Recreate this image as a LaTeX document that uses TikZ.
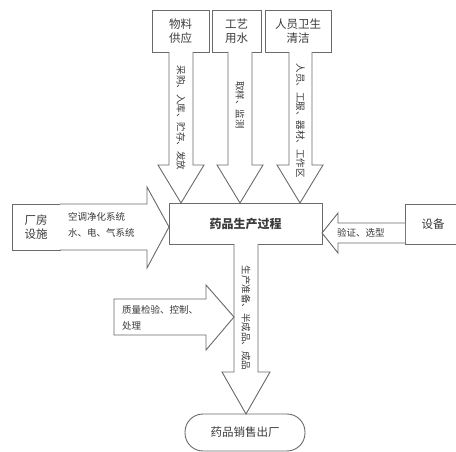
\documentclass[tikz,border=0pt]{standalone}
\usepackage{fontspec}
\setmainfont{Noto Sans CJK SC}
\definecolor{ln}{HTML}{6A6A6A}
\definecolor{tx}{HTML}{3A3A3A}
\begin{document}
\begin{tikzpicture}[x=1pt,y=-1pt,
  boxst/.style={draw=ln, line width=0.9pt, fill=white, inner sep=0pt, align=center, text=tx, font=\fontsize{11.5}{14}\selectfont},
  arr/.style={draw=ln, line width=0.9pt, fill=white, line join=miter},
  vlab/.style={rotate=-90, text=tx, font=\fontsize{9.5}{11}\selectfont, inner sep=0pt},
  hlab/.style={text=tx, font=\fontsize{9.5}{16}\selectfont, inner sep=0pt, align=left}]
\useasboundingbox (0,0) rectangle (456,452);

% top boxes
\node[boxst, minimum width=57pt, minimum height=42pt] (wl) at (180.5,31) {物料\\供应};
\node[boxst, minimum width=49pt, minimum height=42pt] (gy) at (236.5,31) {工艺\\用水};
\node[boxst, minimum width=66pt, minimum height=42pt] (ry) at (298,31) {人员卫生\\清洁};

% main box
\node[boxst, minimum width=153pt, minimum height=41pt, font=\fontsize{12}{14}\selectfont\bfseries] (main) at (245.5,223.5) {药品生产过程};

% side boxes
\node[boxst, minimum width=48pt, minimum height=46pt] (cf) at (36,227) {厂房\\设施};
\node[boxst, minimum width=56pt, minimum height=40pt, text width=36pt] (sb) at (433,224) {设备};

% bottom rounded box
\node[boxst, minimum width=120pt, minimum height=37pt, rounded corners=18pt] (xs) at (245,432.5) {药品销售出厂};

% top arrows
\draw[arr] (169,52) -- (169,165) -- (158,165) -- (181,203) -- (204,165) -- (193,165) -- (193,52);
\draw[arr] (228,52) -- (228,165) -- (217,165) -- (240,203) -- (263,165) -- (252,165) -- (252,52);
\draw[arr] (289,52) -- (289,165) -- (277,165) -- (300,203) -- (323,165) -- (312,165) -- (312,52);
\node[vlab] (l1) at (181,118) {采购、入库、贮存、发放};
\node[vlab] (l2) at (240,105) {取样、监测};
\node[vlab] (l3) at (300.5,121) {人员、工服、器材、工作区};

% left arrow from factory
\draw[arr] (60,204) -- (147,204) -- (147,187) -- (169,227) -- (147,268) -- (147,250) -- (60,250);
\node[hlab, anchor=west] (l4) at (68,224.5) {空调净化系统\\水、电、气系统};

% arrow from equipment
\draw[arr] (405,223) -- (338,223) -- (338,213) -- (322,233) -- (338,253) -- (338,243) -- (405,243);
\node[hlab, anchor=west] (l5) at (337,233) {验证、选型};

% down arrow
\draw[arr] (234,244) -- (234,372) -- (222,372) -- (246,414) -- (270,372) -- (258,372) -- (258,244);
\node[vlab] (l6) at (246,318) {生产准备、半成品、成品};

% quality arrow
\draw[arr] (114,299) -- (206,299) -- (206,285) -- (234,317) -- (206,350) -- (206,335) -- (114,335) -- cycle;
\node[hlab, anchor=west] (l7) at (122,318) {质量检验、控制、\\处理};
\end{tikzpicture}
\end{document}
